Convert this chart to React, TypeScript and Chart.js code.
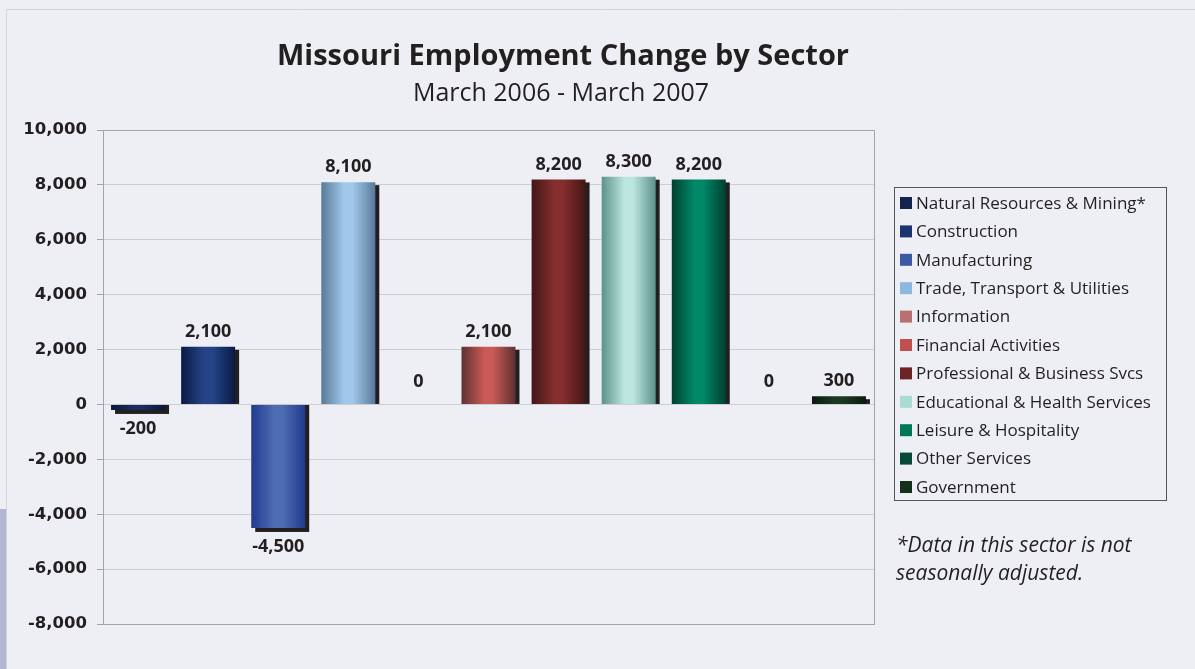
import React, { useEffect, useRef } from 'react';
import { Chart, registerables } from 'chart.js';

Chart.register(...registerables);

const titleText = 'Missouri Employment Change by Sector';
const subtitleText = 'March 2006 - March 2007';
const footnoteLines = ['*Data in this sector is not', 'seasonally adjusted.'];

const sectors = [
  'Natural Resources & Mining*',
  'Construction',
  'Manufacturing',
  'Trade, Transport & Utilities',
  'Information',
  'Financial Activities',
  'Professional & Business Svcs',
  'Educational & Health Services',
  'Leisure & Hospitality',
  'Other Services',
  'Government',
];
const changes = [-200, 2100, -4500, 8100, 0, 2100, 8200, 8300, 8200, 0, 300];

const edgeColors = ['#0b1633', '#0b1a44', '#203a8e', '#587a98', '#7a4040', '#5e3030', '#441616', '#5c928a', '#00402f', '#02301f', '#0a1a0e'];
const centerColors = ['#1b2e5e', '#244487', '#4e6cb4', '#a0c8ea', '#c07878', '#c95a55', '#842e2e', '#bde6e0', '#008868', '#0a5040', '#1a3a20'];
const swatchColors = ['#14244d', '#1c3370', '#3c58a6', '#8ab8e0', '#b87070', '#c05050', '#6e2424', '#a8dcd4', '#007858', '#084838', '#14301a'];

const yMin = -8000;
const yMax = 10000;
const yStep = 2000;

const TEXT = '#231f20';
const fmt = (v: number) => v.toLocaleString('en-US');

const decorPlugin = {
  id: 'decor',
  beforeDraw(chart: any) {
    const ctx = chart.ctx;
    ctx.save();
    ctx.strokeStyle = '#d3d4da';
    ctx.lineWidth = 1;
    ctx.beginPath();
    ctx.moveTo(6.5, 669);
    ctx.lineTo(6.5, 9.5);
    ctx.lineTo(1195, 9.5);
    ctx.stroke();
    ctx.fillStyle = '#b1b6d4';
    ctx.fillRect(0, 509, 6, 160);
    ctx.fillStyle = TEXT;
    ctx.textAlign = 'center';
    ctx.textBaseline = 'alphabetic';
    ctx.font = 'bold 29px "Open Sans"';
    ctx.fillText(titleText, 563, 65);
    ctx.font = '25px "Open Sans"';
    ctx.fillText(subtitleText, 561, 101);
    ctx.restore();
  },
  beforeDatasetsDraw(chart: any) {
    const ctx = chart.ctx;
    chart.data.datasets.forEach((ds: any, i: number) => {
      const meta = chart.getDatasetMeta(i);
      meta.data.forEach((el: any, j: number) => {
        const v = ds.data[j];
        const { x, y, base, width } = el.getProps(['x', 'y', 'base', 'width'], true);
        const left = x - width / 2;
        const right = x + width / 2;
        const g = ctx.createLinearGradient(left, 0, right, 0);
        g.addColorStop(0, edgeColors[i]);
        g.addColorStop(0.42, centerColors[i]);
        g.addColorStop(0.58, centerColors[i]);
        g.addColorStop(1, edgeColors[i]);
        el.options.backgroundColor = g;
        if (v !== 0) {
          ctx.save();
          ctx.fillStyle = TEXT;
          if (v > 0) {
            ctx.fillRect(left + 4, y + 3, width, base - y - 3);
          } else {
            ctx.fillRect(left + 4, base, width, y - base + 4);
          }
          ctx.restore();
        }
      });
    });
  },
  afterDatasetsDraw(chart: any) {
    const ctx = chart.ctx;
    ctx.save();
    ctx.fillStyle = TEXT;
    ctx.font = 'bold 18px "Open Sans"';
    ctx.textAlign = 'center';
    ctx.textBaseline = 'middle';
    chart.data.datasets.forEach((ds: any, i: number) => {
      const meta = chart.getDatasetMeta(i);
      meta.data.forEach((el: any, j: number) => {
        const v = ds.data[j];
        const { x, y } = el.getProps(['x', 'y'], true);
        let ty;
        if (v > 0) ty = y - 15;
        else if (v < 0) ty = y + 19;
        else ty = y - 23;
        ctx.fillText(fmt(v), x, ty);
      });
    });
    ctx.restore();
  },
  afterDraw(chart: any) {
    const ctx = chart.ctx;
    const a = chart.chartArea;
    ctx.save();
    ctx.strokeStyle = '#a3a4aa';
    ctx.lineWidth = 1;
    ctx.strokeRect(Math.round(a.left) + 0.5, Math.round(a.top) + 0.5, Math.round(a.right - a.left), Math.round(a.bottom - a.top));
    ctx.strokeStyle = '#555558';
    ctx.strokeRect(894.5, 187.5, 272, 313);
    ctx.font = '17px "Open Sans"';
    ctx.textAlign = 'left';
    ctx.textBaseline = 'middle';
    chart.data.datasets.forEach((ds: any, i: number) => {
      const cy = 203 + i * 28.4;
      ctx.fillStyle = swatchColors[i];
      ctx.fillRect(900, cy - 6, 12, 12);
      ctx.fillStyle = TEXT;
      ctx.fillText(ds.label, 916, cy + 1);
    });
    ctx.font = 'italic 21px "Open Sans"';
    ctx.textBaseline = 'alphabetic';
    footnoteLines.forEach((t, k) => ctx.fillText(t, 896, 552 + k * 28));
    ctx.restore();
  },
};

export default function App() {
  const ref = useRef<HTMLCanvasElement | null>(null);
  useEffect(() => {
    document.body.style.margin = '0';
    const canvas = ref.current;
    if (!canvas) return;
    const chart = new Chart(canvas, {
      type: 'bar',
      data: {
        labels: [''],
        datasets: sectors.map((s, i) => ({
          label: s,
          data: [changes[i]],
          backgroundColor: swatchColors[i],
          borderWidth: 0,
          categoryPercentage: 1,
          barPercentage: 0.77,
        })),
      },
      options: {
        animation: false,
        responsive: true,
        maintainAspectRatio: false,
        layout: { padding: { left: 0, right: 321, top: 130, bottom: 45 } },
        plugins: {
          legend: { display: false },
          title: { display: false },
          tooltip: { enabled: false },
        },
        scales: {
          x: { display: false },
          y: {
            min: yMin,
            max: yMax,
            afterFit: (scale: any) => {
              scale.width = 103;
            },
            ticks: {
              stepSize: yStep,
              padding: 10,
              color: TEXT,
              font: { family: '"DejaVu Sans"', weight: 'bold', size: 16.5 },
              callback: (v: any) => fmt(Number(v)),
            },
            grid: {
              color: '#cdced5',
              tickColor: '#a3a4aa',
              tickLength: 6,
              lineWidth: 1,
            },
            border: { display: true, color: '#a3a4aa' },
          },
        },
      },
      plugins: [decorPlugin],
    });
    return () => chart.destroy();
  }, []);
  return (
    <div style={{ width: 1195, height: 669, background: '#eeeff4', position: 'relative' }}>
      <canvas ref={ref} />
    </div>
  );
}
